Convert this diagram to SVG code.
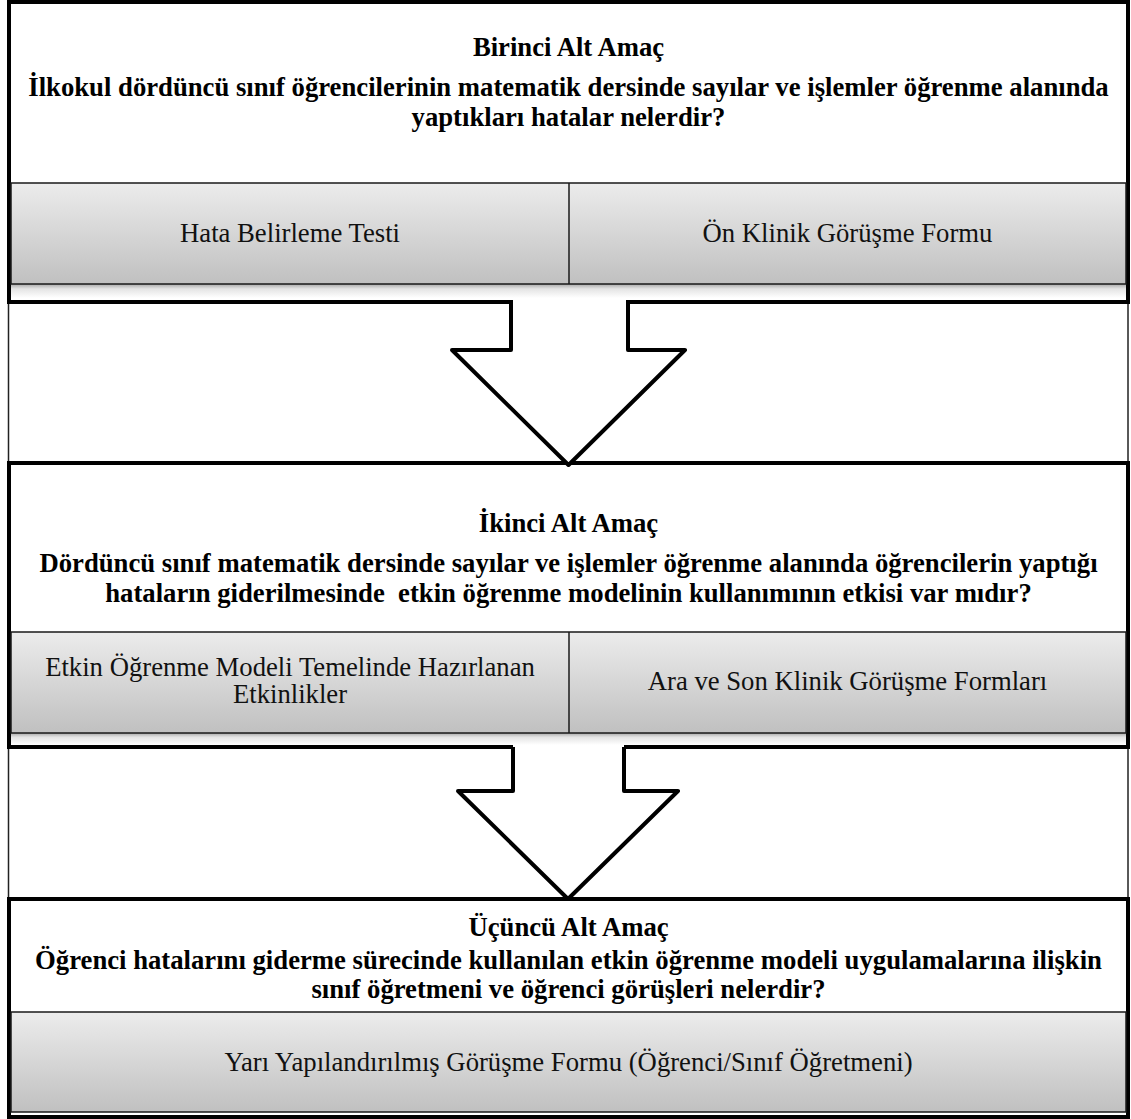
<svg xmlns="http://www.w3.org/2000/svg" width="1131" height="1119" viewBox="0 0 1131 1119">
<defs>
<linearGradient id="gray" x1="0" y1="0" x2="0" y2="1">
<stop offset="0" stop-color="#ececec"/>
<stop offset="1" stop-color="#c0c0c0"/>
</linearGradient>
<linearGradient id="shade" x1="0" y1="0" x2="0" y2="1">
<stop offset="0" stop-color="#a8a8a8"/>
<stop offset="0.35" stop-color="#e4e4e4"/>
<stop offset="1" stop-color="#ffffff"/>
</linearGradient>
<style>
.frame{fill:#fff;stroke:#000;stroke-width:4}
.outer{fill:none;stroke:#222;stroke-width:1.5}
.panel{fill:url(#gray);stroke:#1a1a1a;stroke-width:1.5}
.div{stroke:#1a1a1a;stroke-width:1.5}
.shade{fill:url(#shade)}
.b{font-family:"Liberation Serif","Times New Roman",serif;font-weight:bold;font-size:26.7px;fill:#000;text-anchor:middle}
.r{font-family:"Liberation Serif","Times New Roman",serif;font-size:26.7px;fill:#111;text-anchor:middle}
.arrow{fill:#fff;stroke:none}
.arrowline{fill:none;stroke:#000;stroke-width:4;stroke-linejoin:round}
</style>
</defs>
<rect x="0" y="0" width="1131" height="1119" fill="#fff"/>
<rect class="outer" x="8.5" y="0.5" width="1119.5" height="1117"/>

<g id="box1">
<rect class="frame" x="9" y="2" width="1119" height="300"/>
<rect class="shade" x="11" y="284" width="1115" height="14"/>
<rect class="panel" x="11" y="183" width="1115" height="101"/>
<line class="div" x1="569" y1="183" x2="569" y2="284"/>
<text class="b" x="568.5" y="56">Birinci Alt Amaç</text>
<text class="b" x="568.5" y="96">İlkokul dördüncü sınıf öğrencilerinin matematik dersinde sayılar ve işlemler öğrenme alanında</text>
<text class="b" x="568.5" y="126">yaptıkları hatalar nelerdir?</text>
<text class="r" x="290" y="242">Hata Belirleme Testi</text>
<text class="r" x="847.5" y="242">Ön Klinik Görüşme Formu</text>
</g>

<g id="box2">
<rect class="frame" x="9" y="463" width="1119" height="284"/>
<rect class="shade" x="11" y="733" width="1115" height="12"/>
<rect class="panel" x="11" y="632" width="1115" height="101"/>
<line class="div" x1="569" y1="632" x2="569" y2="733"/>
<text class="b" x="568.5" y="532">İkinci Alt Amaç</text>
<text class="b" x="568.5" y="572">Dördüncü sınıf matematik dersinde sayılar ve işlemler öğrenme alanında öğrencilerin yaptığı</text>
<text class="b" x="568.5" y="602" xml:space="preserve">hataların giderilmesinde  etkin öğrenme modelinin kullanımının etkisi var mıdır?</text>
<text class="r" x="290" y="676">Etkin Öğrenme Modeli Temelinde Hazırlanan</text>
<text class="r" x="290" y="703">Etkinlikler</text>
<text class="r" x="847.5" y="690">Ara ve Son Klinik Görüşme Formları</text>
</g>

<g id="box3">
<rect class="frame" x="9" y="899" width="1119" height="218"/>
<rect class="panel" x="11" y="1012" width="1115" height="100"/>
<text class="b" x="568.5" y="936">Üçüncü Alt Amaç</text>
<text class="b" x="568.5" y="969">Öğrenci hatalarını giderme sürecinde kullanılan etkin öğrenme modeli uygulamalarına ilişkin</text>
<text class="b" x="568.5" y="998">sınıf öğretmeni ve öğrenci görüşleri nelerdir?</text>
<text class="r" x="568.5" y="1071">Yarı Yapılandırılmış Görüşme Formu (Öğrenci/Sınıf Öğretmeni)</text>
</g>

<g id="connectors">
<g id="arrow1">
<polygon class="arrow" points="511,298 511,350 452,350 568.5,465 685,350 628,350 628,298"/>
<path class="arrowline" d="M511,300 V350 H452 L568.5,465 L685,350 H628 V300"/>
</g>
<g id="arrow2">
<polygon class="arrow" points="513,745 513,791 458,791 568,899 678,791 624,791 624,745"/>
<path class="arrowline" d="M513,747 V791 H458 L568,899 L678,791 H624 V747"/>
</g>
</g>
</svg>
